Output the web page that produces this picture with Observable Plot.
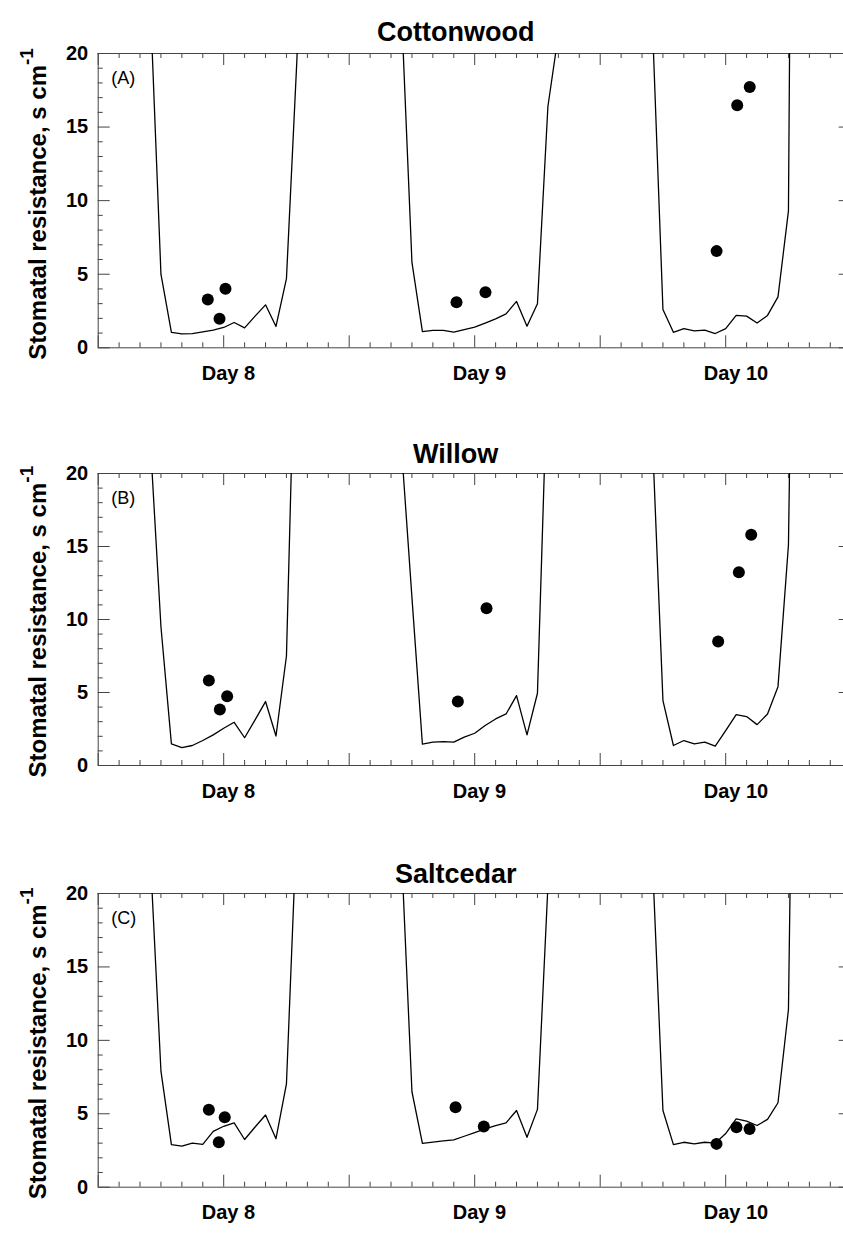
<!DOCTYPE html>
<html>
<head>
<meta charset="utf-8">
<script src="https://cdn.jsdelivr.net/npm/d3@7"></script>
<script src="https://cdn.jsdelivr.net/npm/@observablehq/plot@0.6"></script>
<style>
  html, body { margin: 0; padding: 0; background: #fff; overflow: hidden; width: 843px; }
  #chart { width: 843px; overflow: hidden; }
  #chart svg { display: block; max-width: none; }
</style>
</head>
<body>
<div id="chart"></div>
<script>
// ---- axis / category data ----
const modelHours = [4, 5, 6, 7, 8, 9, 10, 11, 12, 13, 14, 15, 16, 17, 18, 19, 20]; // hour of day
const dayOffsets = [0, 24, 48];            // hours from start of Day 8
const dayTickHours = [12, 36, 60];         // noon of each day
const dayLabels = ["Day 8", "Day 9", "Day 10"];
const xMajorTicks = [0, 12, 24, 36, 48, 60, 72];
const xMinorTicks = [2, 4, 6, 8, 10, 14, 16, 18, 20, 22, 26, 28, 30, 32, 34, 38, 40, 42, 44, 46, 50, 52, 54, 56, 58, 62, 64, 66, 68, 70];
const yMajorTicks = [0, 5, 10, 15, 20];
const yMinorTicks = [1, 2, 3, 4, 6, 7, 8, 9, 11, 12, 13, 14, 16, 17, 18, 19];
const yTitle = "Stomatal resistance, s cm";

// ---- modelled stomatal resistance (s cm-1) at modelHours; values above 20 run off the panel ----
const cottonwood8  = [40, 23.1, 5.0, 1.05, 0.95, 0.97, 1.08, 1.2, 1.38, 1.72, 1.35, 2.15, 2.92, 1.45, 4.7, 19.6, 40];
const cottonwood9  = [40, 22.9, 5.8, 1.1, 1.18, 1.18, 1.06, 1.24, 1.4, 1.68, 1.97, 2.31, 3.15, 1.47, 3.0, 16.4, 21.3];
const cottonwood10 = [40, 21.9, 2.6, 1.05, 1.3, 1.15, 1.2, 0.97, 1.3, 2.2, 2.15, 1.68, 2.2, 3.46, 9.3, 110, 40];

const willow8  = [40, 22, 9.5, 1.48, 1.23, 1.37, 1.71, 2.1, 2.55, 2.96, 1.9, 3.13, 4.38, 2.02, 7.5, 35, 40];
const willow9  = [40, 21.75, 11.5, 1.46, 1.6, 1.64, 1.6, 1.94, 2.21, 2.74, 3.19, 3.53, 4.79, 2.1, 4.95, 28.1, 40];
const willow10 = [40, 22.3, 4.45, 1.37, 1.71, 1.48, 1.6, 1.32, 2.39, 3.49, 3.35, 2.8, 3.53, 5.4, 15.1, 65, 40];

const saltcedar8  = [40, 22.3, 7.9, 2.9, 2.8, 3.0, 2.92, 3.8, 4.15, 4.38, 3.25, 4.1, 4.92, 3.3, 7.04, 25, 40];
const saltcedar9  = [40, 22.8, 6.5, 2.98, 3.07, 3.15, 3.22, 3.47, 3.72, 3.97, 4.2, 4.38, 5.22, 3.4, 5.3, 20.5, 40];
const saltcedar10 = [40, 22.2, 5.22, 2.9, 3.06, 2.95, 3.06, 3.0, 3.65, 4.65, 4.5, 4.2, 4.62, 5.75, 12.1, 65, 40];

// ---- measured values (hours from start of Day 8, s cm-1) ----
const cottonwoodObsTime  = [10.48, 11.6, 12.17, 34.26, 37.03, 59.13, 61.1, 62.3];
const cottonwoodObsValue = [3.29, 1.97, 4.01, 3.1, 3.78, 6.57, 16.48, 17.73];
const willowObsTime  = [10.58, 11.63, 12.33, 34.39, 37.13, 59.28, 61.26, 62.44];
const willowObsValue = [5.82, 3.83, 4.74, 4.38, 10.77, 8.5, 13.23, 15.8];
const saltcedarObsTime  = [10.58, 11.53, 12.1, 34.17, 36.87, 59.12, 61.03, 62.28];
const saltcedarObsValue = [5.27, 3.06, 4.76, 5.44, 4.13, 2.95, 4.08, 3.97];

// the plotting area runs a little past the right edge of the page, as in the original
const W = 851, ML = 97.7, MR = 0.3, MT = 53;
const FONT = "'Liberation Sans', Arial, Helvetica, sans-serif";
const AX = "#444";

function panel({title, letter, model, obsTime, obsValue, height, marginBottom, titleDy}) {
  const rows = [];
  model.forEach((vals, d) => vals.forEach((v, i) => rows.push({t: dayOffsets[d] + modelHours[i], r: v})));
  const obs = obsTime.map((t, i) => ({t, r: obsValue[i]}));
  const fh = height - MT - marginBottom;
  const fw = W - MR - ML;
  const big = 12, small = 5;
  const svg = Plot.plot({
    width: W, height,
    marginLeft: ML, marginRight: MR, marginTop: MT, marginBottom,
    style: {fontFamily: FONT, background: "white", color: "black", maxWidth: "none"},
    x: {domain: [0, 72], axis: null},
    y: {domain: [0, 20], axis: null},
    marks: [
      // inward ticks on all four sides
      Plot.tickX(xMajorTicks, {x: d => d, stroke: AX, insetTop: fh - big}),
      Plot.tickX(xMinorTicks, {x: d => d, stroke: AX, insetTop: fh - small}),
      Plot.tickX(xMajorTicks, {x: d => d, stroke: AX, insetBottom: fh - big}),
      Plot.tickX(xMinorTicks, {x: d => d, stroke: AX, insetBottom: fh - small}),
      Plot.tickY(yMajorTicks, {y: d => d, stroke: AX, insetRight: fw - big}),
      Plot.tickY(yMinorTicks, {y: d => d, stroke: AX, insetRight: fw - small}),
      Plot.tickY(yMajorTicks, {y: d => d, stroke: AX, insetLeft: fw - big}),
      Plot.tickY(yMinorTicks, {y: d => d, stroke: AX, insetLeft: fw - small}),
      // box: bottom, top and left edges (the right edge lies beyond the page)
      Plot.ruleY([0, 20], {stroke: AX, strokeWidth: 1}),
      Plot.ruleX([0], {stroke: AX, strokeWidth: 1}),
      // data
      Plot.line(rows, {x: "t", y: "r", stroke: "black", strokeWidth: 1.3, clip: true}),
      Plot.dot(obs, {x: "t", y: "r", r: 6, fill: "black", stroke: "none"}),
      // labels
      Plot.text(yMajorTicks, {y: d => d, text: d => String(d), frameAnchor: "left", textAnchor: "end", dx: -10, fontSize: 20, fontWeight: "bold", fill: "black"}),
      Plot.text(dayTickHours, {x: d => d, text: (d, i) => dayLabels[i], frameAnchor: "bottom", textAnchor: "start", lineAnchor: "bottom", dx: -22, dy: 32, fontSize: 20, fontWeight: "bold", fill: "black"}),
      Plot.text([title], {text: d => d, frameAnchor: "top", lineAnchor: "bottom", dx: -19, dy: -titleDy, fontSize: 27, fontWeight: "bold", fill: "black"}),
      Plot.text([letter], {text: d => d, frameAnchor: "top-left", textAnchor: "start", lineAnchor: "middle", dx: 13, dy: 25, fontSize: 18, fill: "black"}),
      Plot.text([yTitle], {text: d => d, frameAnchor: "bottom-left", textAnchor: "start", lineAnchor: "bottom", rotate: -90, dx: -52, dy: 12, fontSize: 24, fontWeight: "bold", fill: "black"})
    ]
  });
  // superscript "-1" on the unit
  svg.querySelectorAll("text").forEach(el => {
    if (el.textContent === yTitle) {
      const ts = document.createElementNS("http://www.w3.org/2000/svg", "tspan");
      ts.setAttribute("dy", "-13");
      ts.setAttribute("font-size", "19");
      ts.textContent = "-1";
      el.appendChild(ts);
    }
  });
  return svg;
}

const chart = document.getElementById("chart");
chart.appendChild(panel({title: "Cottonwood", letter: "(A)", model: [cottonwood8, cottonwood9, cottonwood10],
  obsTime: cottonwoodObsTime, obsValue: cottonwoodObsValue, height: 420, marginBottom: 72.7, titleDy: 12.5}));
chart.appendChild(panel({title: "Willow", letter: "(B)", model: [willow8, willow9, willow10],
  obsTime: willowObsTime, obsValue: willowObsValue, height: 420, marginBottom: 75, titleDy: 10.5}));
chart.appendChild(panel({title: "Saltcedar", letter: "(C)", model: [saltcedar8, saltcedar9, saltcedar10],
  obsTime: saltcedarObsTime, obsValue: saltcedarObsValue, height: 397, marginBottom: 50.3, titleDy: 10.5}));
</script>
</body>
</html>
